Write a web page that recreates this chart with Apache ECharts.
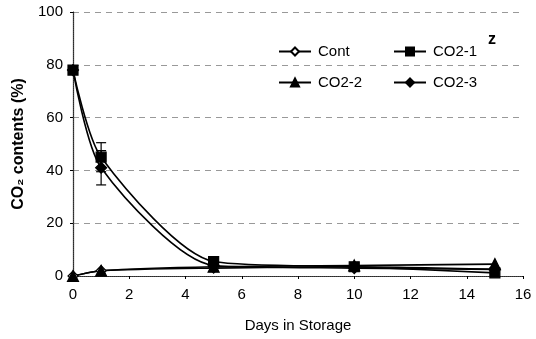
<!DOCTYPE html>
<html>
<head>
<meta charset="utf-8">
<script src="https://cdn.jsdelivr.net/npm/echarts@6/dist/echarts.min.js"></script>
<style>html,body{margin:0;padding:0;background:#fff;}#c{width:536px;height:339px;}</style>
</head>
<body>
<div id="c"></div>
<script>
var days = [0, 1, 5, 10, 15];
var seriesNames = ['Cont', 'CO2-1', 'CO2-2', 'CO2-3'];
var cont = [0, 2, 3, 3.5, 2.5];
var co2_1 = [78, 45, 5.5, 3.5, 1.2];
var co2_2 = [0, 2, 3.5, 4, 4.5];
var co2_3 = [78, 41, 4, 3, 2.5];
// error bars [day, low, high]
var err1 = [[1, 39.5, 50.5]];
var err3 = [[1, 34.5, 47.5]];
var xTicks = [0, 2, 4, 6, 8, 10, 12, 14, 16];
var yTicks = [0, 20, 40, 60, 80, 100];

function pairs(v) { return days.map(function (d, i) { return [d, v[i]]; }); }

var font = 'Liberation Sans, Arial, sans-serif';
var chart = echarts.init(document.getElementById('c'), null, {renderer: 'canvas'});

function errSeries(data) {
  return {
    type: 'custom', silent: true, z: 5,
    data: data,
    renderItem: function (params, api) {
      var x = api.value(0);
      var lo = api.coord([x, api.value(1)]);
      var hi = api.coord([x, api.value(2)]);
      var w = 5;
      var st = {stroke: '#000', lineWidth: 1.2};
      return {type: 'group', children: [
        {type: 'line', shape: {x1: lo[0], y1: lo[1], x2: hi[0], y2: hi[1]}, style: st},
        {type: 'line', shape: {x1: lo[0] - w, y1: lo[1], x2: lo[0] + w, y2: lo[1]}, style: st},
        {type: 'line', shape: {x1: hi[0] - w, y1: hi[1], x2: hi[0] + w, y2: hi[1]}, style: st}
      ]};
    }
  };
}

function lineSeries(name, vals, symbol, fill, size) {
  return {
    name: name, type: 'line', data: pairs(vals), smooth: 0.25,
    symbol: symbol, symbolSize: size,
    lineStyle: {color: '#000', width: 1.6},
    itemStyle: {color: fill, borderColor: '#000', borderWidth: 1.2},
    z: 3
  };
}

function legendAt(name, left, top) {
  return {
    data: [name], left: left, top: top, itemWidth: 32, itemHeight: 10,
    textStyle: {fontFamily: font, fontSize: 15, color: '#000', padding: [0, 0, 0, 2]},
    padding: 0, selectedMode: false
  };
}

var option = {
  animation: false,
  backgroundColor: '#fff',
  grid: {left: 73, right: 13, top: 12, bottom: 63},
  legend: [
    legendAt('Cont', 278, 44),
    legendAt('CO2-1', 393, 44),
    legendAt('CO2-2', 278, 75),
    legendAt('CO2-3', 393, 75)
  ],
  xAxis: [{
    type: 'value', min: 0, max: 16, interval: 2,
    name: 'Days in Storage', nameLocation: 'middle', nameGap: 42,
    nameTextStyle: {fontFamily: font, fontSize: 15, color: '#000'},
    axisLine: {show: true, lineStyle: {color: '#000', width: 1.2}},
    axisTick: {show: true, length: 3, lineStyle: {color: '#000'}},
    axisLabel: {fontFamily: font, fontSize: 15, color: '#000', margin: 11,
      formatter: function (v) { return xTicks.indexOf(v) >= 0 ? String(v) : ''; }},
    splitLine: {show: false}
  }, {
    type: 'value', min: 0, max: 16, interval: 2, position: 'top',
    axisLine: {show: true, lineStyle: {color: '#444', width: 1, type: 'dotted'}},
    axisTick: {show: false}, axisLabel: {show: false}, splitLine: {show: false}
  }],
  yAxis: [{
    type: 'value', min: 0, max: 100, interval: 20,
    name: 'CO\u2082 contents (%)', nameLocation: 'middle', nameGap: 41,
    nameTextStyle: {fontFamily: font, fontSize: 16, fontWeight: 'bold', color: '#000'},
    axisLine: {show: true, lineStyle: {color: '#000', width: 1.2}},
    axisTick: {show: true, length: 3, lineStyle: {color: '#000'}},
    axisLabel: {fontFamily: font, fontSize: 15, color: '#000', margin: 10,
      formatter: function (v) { return yTicks.indexOf(v) >= 0 ? String(v) : ''; }},
    splitLine: {show: true, lineStyle: {color: '#999', type: [6, 5], width: 1}}
  }, {
    type: 'value', min: 0, max: 100, interval: 20, position: 'right',
    axisLine: {show: true, lineStyle: {color: '#444', width: 1, type: 'dotted'}},
    axisTick: {show: false}, axisLabel: {show: false}, splitLine: {show: false}
  }],
  graphic: [{
    type: 'text', left: 488, top: 32,
    style: {text: 'z', fontFamily: font, fontSize: 16, fontWeight: 'bold', fill: '#000'}
  }],
  series: [
    lineSeries('Cont', cont, 'diamond', '#fff', 10),
    lineSeries('CO2-1', co2_1, 'rect', '#000', 10),
    lineSeries('CO2-2', co2_2, 'triangle', '#000', 11),
    lineSeries('CO2-3', co2_3, 'diamond', '#000', 11),
    errSeries(err1),
    errSeries(err3)
  ]
};
chart.setOption(option);
</script>
</body>
</html>
